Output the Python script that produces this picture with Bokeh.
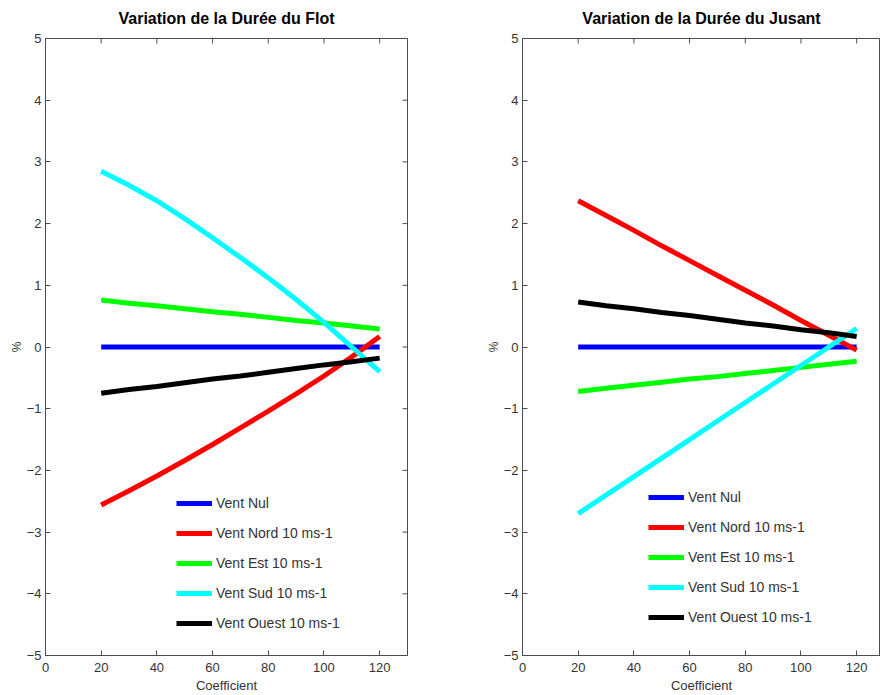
from bokeh.plotting import figure
from bokeh.layouts import row
from bokeh.models import Range1d, LinearAxis, FixedTicker, Legend, LegendItem
from bokeh.embed import file_html
from bokeh.resources import INLINE

# Tide coefficients at which the durations were computed
coefficients = [20, 30, 40, 50, 60, 70, 80, 90, 100, 110, 120]

# Variation of flood duration (%) per wind scenario
flot_nul = [0.0, 0.0, 0.0, 0.0, 0.0, 0.0, 0.0, 0.0, 0.0, 0.0, 0.0]
flot_nord = [-2.56, -2.33, -2.09, -1.84, -1.58, -1.31, -1.04, -0.76, -0.47, -0.16, 0.17]
flot_est = [0.76, 0.71, 0.67, 0.62, 0.57, 0.53, 0.48, 0.43, 0.39, 0.34, 0.29]
flot_sud = [2.85, 2.62, 2.37, 2.08, 1.77, 1.45, 1.12, 0.77, 0.40, 0.00, -0.40]
flot_ouest = [-0.75, -0.69, -0.64, -0.58, -0.52, -0.47, -0.41, -0.35, -0.29, -0.24, -0.18]

# Variation of ebb duration (%) per wind scenario
jusant_nul = [0.0, 0.0, 0.0, 0.0, 0.0, 0.0, 0.0, 0.0, 0.0, 0.0, 0.0]
jusant_nord = [2.37, 2.13, 1.89, 1.64, 1.40, 1.16, 0.92, 0.68, 0.43, 0.19, -0.05]
jusant_est = [-0.72, -0.67, -0.62, -0.57, -0.52, -0.48, -0.43, -0.38, -0.33, -0.28, -0.23]
jusant_sud = [-2.70, -2.40, -2.10, -1.80, -1.50, -1.20, -0.90, -0.60, -0.30, 0.00, 0.30]
jusant_ouest = [0.73, 0.67, 0.62, 0.56, 0.51, 0.45, 0.39, 0.34, 0.28, 0.23, 0.17]

labels = ["Vent Nul", "Vent Nord 10 ms-1", "Vent Est 10 ms-1",
          "Vent Sud 10 ms-1", "Vent Ouest 10 ms-1"]
colors = ["#0000ff", "#ff0000", "#00ff00", "#00ffff", "#000000"]

x_ticks = [0, 20, 40, 60, 80, 100, 120]
y_ticks = [-5, -4, -3, -2, -1, 0, 1, 2, 3, 4, 5]

FONT = "Liberation Sans"
AXIS_COLOR = "#4d4d4d"
TEXT_COLOR = "#333333"
FRAME_H = 617
TICK_PX = 5


def style_axis(ax):
    ax.axis_line_color = AXIS_COLOR
    ax.axis_line_width = 1
    ax.major_tick_line_color = AXIS_COLOR
    ax.major_tick_in = TICK_PX
    ax.major_tick_out = 0
    ax.minor_tick_line_color = None
    ax.major_label_text_font = FONT
    ax.major_label_text_font_size = "13px"
    ax.major_label_text_color = TEXT_COLOR
    ax.axis_label_text_font = FONT
    ax.axis_label_text_font_size = "13px"
    ax.axis_label_text_font_style = "normal"
    ax.axis_label_text_color = TEXT_COLOR


def panel(title, series, x_end, frame_w, border_left, border_right,
          ylabel, legend_xy):
    p = figure(frame_width=frame_w, frame_height=FRAME_H,
               x_range=Range1d(0, x_end), y_range=Range1d(-5, 5),
               min_border_left=border_left, min_border_right=border_right,
               min_border_top=38, min_border_bottom=40,
               output_backend="svg", toolbar_location=None,
               x_axis_location=None, y_axis_location=None,
               title=title)
    p.title.align = "center"
    p.title.vertical_align = "top"
    p.title.text_font = FONT
    p.title.text_font_size = "16px"
    p.title.text_font_style = "bold"
    p.title.text_color = "#000000"
    p.title.standoff = 19
    p.grid.visible = False
    p.outline_line_color = AXIS_COLOR
    p.outline_line_width = 1
    p.background_fill_color = "white"
    p.border_fill_color = "white"

    bottom = LinearAxis(ticker=FixedTicker(ticks=x_ticks), axis_label="Coefficient")
    style_axis(bottom)
    bottom.major_label_standoff = 7
    bottom.axis_label_standoff = 3
    p.add_layout(bottom, "below")

    left = LinearAxis(ticker=FixedTicker(ticks=y_ticks), axis_label=ylabel)
    style_axis(left)
    left.major_label_standoff = 4
    left.axis_label_standoff = 0
    left.axis_label_text_font_size = "12px"
    p.add_layout(left, "left")

    # inward tick marks on the top edge (and the right edge when it is shown)
    y_top = p.y_range.end
    dy = TICK_PX * (p.y_range.end - p.y_range.start) / FRAME_H
    xt = [t for t in x_ticks if t <= x_end]
    p.segment(x0=xt, y0=[y_top] * len(xt), x1=xt, y1=[y_top - dy] * len(xt),
              line_color=AXIS_COLOR, line_width=1)
    if border_right > 0:
        dx = TICK_PX * x_end / frame_w
        p.segment(x0=[x_end] * len(y_ticks), y0=y_ticks,
                  x1=[x_end - dx] * len(y_ticks), y1=y_ticks,
                  line_color=AXIS_COLOR, line_width=1)

    items = []
    for ys, lab, col in zip(series, labels, colors):
        r = p.line(coefficients, ys, line_color=col, line_width=5)
        items.append(LegendItem(label=lab, renderers=[r]))

    leg = Legend(items=items, location=legend_xy)
    leg.background_fill_alpha = 0
    leg.border_line_alpha = 0
    leg.glyph_width = 36
    leg.glyph_height = 20
    leg.label_height = 20
    leg.spacing = 10
    leg.padding = 10
    leg.label_standoff = 4
    leg.label_text_font = FONT
    leg.label_text_font_size = "14px"
    leg.label_text_color = TEXT_COLOR
    p.add_layout(leg, "center")
    return p


p1 = panel("Variation de la Durée du Flot",
           [flot_nul, flot_nord, flot_est, flot_sud, flot_ouest],
           130, 362, 45, 33, "%", (121, 12))
p2 = panel("Variation de la Durée du Jusant",
           [jusant_nul, jusant_nord, jusant_est, jusant_sud, jusant_ouest],
           358 / 362 * 130, 358, 82, 0, "%", (116, 18))

layout = row(p1, p2)
open("out.html", "w").write(file_html(layout, INLINE))
